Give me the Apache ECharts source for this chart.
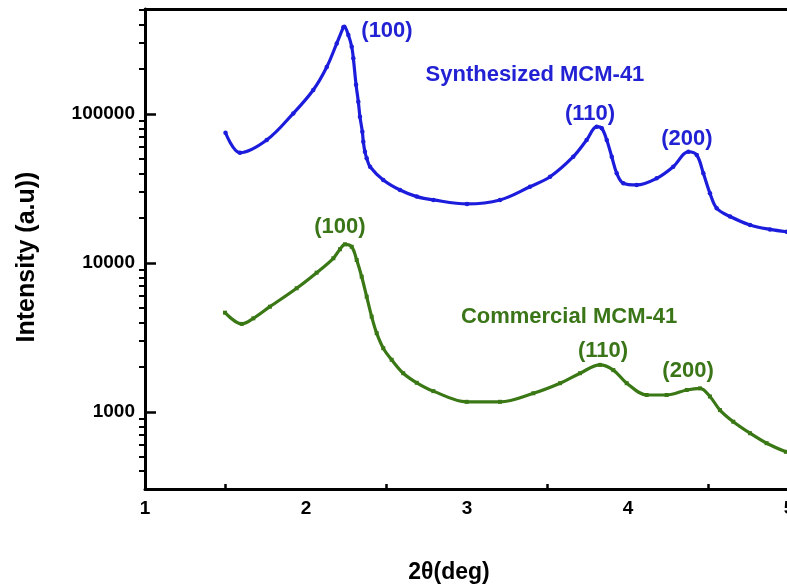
<!DOCTYPE html>
<html>
<head>
<meta charset="utf-8">
<script src="https://cdn.jsdelivr.net/npm/echarts@6/dist/echarts.min.js"></script>
<style>html,body{margin:0;padding:0;background:#fff;}#c{width:787px;height:586px;}</style>
</head>
<body>
<div id="c"></div>
<script>
// 2θ (deg) vs intensity
const synthesized = [
  [1.50,74900],[1.59,55000],[1.756,66900],[1.921,101000],[2.045,145000],[2.129,207000],
  [2.191,298000],[2.232,382000],[2.238,386000],[2.263,339000],[2.284,283000],[2.294,237000],
  [2.311,157000],[2.325,121000],[2.335,96000],[2.350,76000],[2.356,65200],[2.366,55800],
  [2.377,50500],[2.398,44300],[2.480,36100],[2.584,30900],[2.688,27900],[2.791,26500],
  [3.0,24900],[3.205,26500],[3.391,32500],[3.516,37900],[3.660,51700],[3.743,66900],
  [3.806,82200],[3.837,80200],[3.868,66900],[3.899,51700],[3.930,40000],[3.971,34300],
  [4.054,33400],[4.178,37000],[4.281,44300],[4.375,55800],[4.427,53100],[4.468,40000],
  [4.509,29400],[4.551,23300],[4.634,20500],[4.758,18000],[4.882,16800],[4.986,16200]
];
const commercial = [
  [1.497,4640],[1.601,3900],[1.673,4250],[1.776,5090],[1.942,6770],[2.066,8610],
  [2.170,10760],[2.211,12370],[2.242,13350],[2.284,12850],[2.315,10470],[2.346,8090],
  [2.377,5940],[2.408,4360],[2.439,3380],[2.480,2680],[2.532,2240],[2.604,1820],
  [2.688,1570],[2.791,1380],[2.998,1170],[3.205,1170],[3.412,1335],[3.578,1560],
  [3.702,1820],[3.826,2070],[3.909,1910],[3.992,1560],[4.116,1300],[4.240,1300],
  [4.365,1405],[4.447,1440],[4.509,1270],[4.571,1030],[4.654,860],[4.758,720],
  [4.861,617],[4.981,540]
];
const synthLabels = [
  {name:'(100)', value:[2.503,361000]},
  {name:'Synthesized MCM-41', value:[3.422,183000]},
  {name:'(110)', value:[3.764,100000]},
  {name:'(200)', value:[4.366,67900]}
];
const commLabels = [
  {name:'(100)', value:[2.211,17400]},
  {name:'Commercial MCM-41', value:[3.634,4340]},
  {name:'(110)', value:[3.845,2565]},
  {name:'(200)', value:[4.373,1883]}
];
const yMajorTicks = [1000, 10000, 100000];
const yMinorTicks = [400,500,600,700,800,900,2000,3000,4000,5000,6000,7000,8000,9000,
  20000,30000,40000,50000,60000,70000,80000,90000,200000,300000,400000,500000];
const xMinorTicks = [1.5, 2.5, 3.5, 4.5];
const xTitle = '2θ(deg)';
const yTitle = 'Intensity (a.u))';

const BLUE = '#1c1cdc';
const BLUE_TEXT = '#2222d4';
const GREEN = '#3a7816';
const GREEN_TEXT = '#3a7518';
const FONT = '"Liberation Sans", Arial, sans-serif';
const yMin = 304, yMax = 507000;

const chart = echarts.init(document.getElementById('c'), null, {renderer:'canvas'});
chart.setOption({
  animation:false,
  backgroundColor:'#fff',
  grid:{left:145, right:-2, top:9, bottom:97, containLabel:false, outerBoundsMode:'none'},
  xAxis:[{
    type:'value', min:1, max:5, interval:1, position:'bottom',
    axisLine:{show:true, lineStyle:{color:'#000', width:3}},
    axisTick:{show:true, inside:true, length:5, customValues:xMinorTicks, lineStyle:{color:'#000', width:2.5}},
    axisLabel:{show:true, margin:10, color:'#000', fontSize:19, fontWeight:'bold', fontFamily:FONT,
      showMinLabel:true, showMaxLabel:true},
    splitLine:{show:false}
  },{
    type:'value', min:1, max:5, position:'top',
    axisLine:{show:true, lineStyle:{color:'#000', width:3}},
    axisTick:{show:false}, axisLabel:{show:false}, splitLine:{show:false}
  }],
  yAxis:[{
    type:'log', min:yMin, max:yMax, position:'left',
    axisLine:{show:true, lineStyle:{color:'#000', width:3}},
    axisTick:{show:true, inside:true, length:11, customValues:yMajorTicks, lineStyle:{color:'#000', width:2.5}},
    axisLabel:{show:true, margin:10, customValues:yMajorTicks, color:'#000', fontSize:19, fontWeight:'bold',
      fontFamily:FONT, formatter:function(v){return String(Math.round(v));}},
    splitLine:{show:false}, minorTick:{show:false}
  },{
    type:'log', min:yMin, max:yMax, position:'left',
    axisLine:{show:false},
    axisTick:{show:true, inside:false, length:6, customValues:yMinorTicks, lineStyle:{color:'#000', width:2}},
    axisLabel:{show:false}, splitLine:{show:false}
  }],
  series:[
    {type:'line', name:'Synthesized MCM-41', data:synthesized, xAxisIndex:0, yAxisIndex:0,
      showSymbol:true, symbol:'circle', symbolSize:4.5, smooth:0.35,
      lineStyle:{color:BLUE, width:3.2}, itemStyle:{color:BLUE, borderWidth:0}, z:3},
    {type:'line', name:'Commercial MCM-41', data:commercial, xAxisIndex:0, yAxisIndex:0,
      showSymbol:true, symbol:'rect', symbolSize:4, smooth:0.35,
      lineStyle:{color:GREEN, width:3.2}, itemStyle:{color:GREEN, borderWidth:0}, z:3},
    {type:'scatter', data:synthLabels, symbolSize:0, silent:true, xAxisIndex:0, yAxisIndex:0,
      itemStyle:{opacity:1, color:BLUE_TEXT},
      label:{show:true, position:'inside', formatter:'{b}', color:BLUE_TEXT, opacity:1, textBorderWidth:0,
        fontSize:22, fontWeight:'bold', fontFamily:FONT}},
    {type:'scatter', data:commLabels, symbolSize:0, silent:true, xAxisIndex:0, yAxisIndex:0,
      itemStyle:{opacity:1, color:GREEN_TEXT},
      label:{show:true, position:'inside', formatter:'{b}', color:GREEN_TEXT, opacity:1, textBorderWidth:0,
        fontSize:22, fontWeight:'bold', fontFamily:FONT}}
  ],
  graphic:[
    {type:'text', x:27, y:257, rotation:Math.PI/2,
      style:{text:yTitle, font:'bold 25px ' + FONT, fill:'#000', align:'center', verticalAlign:'middle'}},
    {type:'text', x:449, y:573,
      style:{text:xTitle, font:'bold 23px ' + FONT, fill:'#000', align:'center', verticalAlign:'middle'}}
  ]
});
</script>
</body>
</html>
